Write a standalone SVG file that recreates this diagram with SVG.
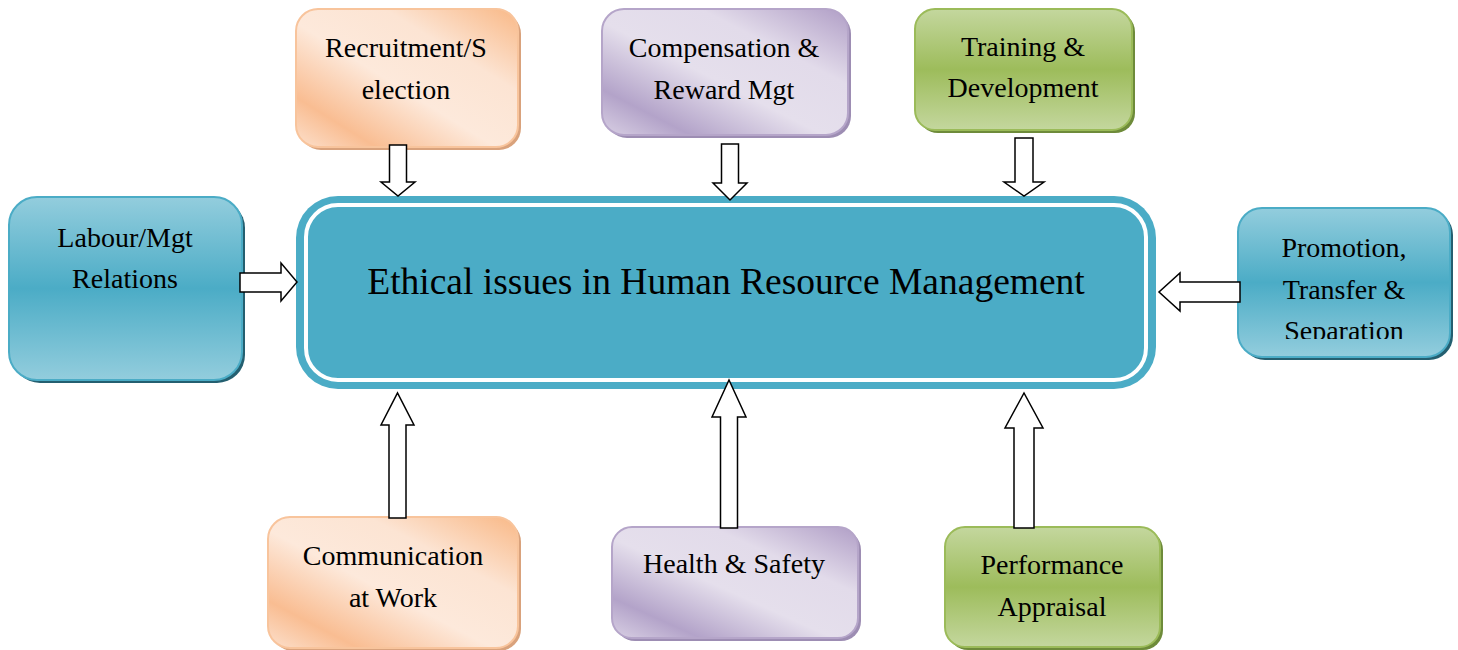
<svg xmlns="http://www.w3.org/2000/svg" width="1458" height="650" viewBox="0 0 1458 650">
<defs>
<linearGradient id="gOrange" x1="0" y1="1" x2="1" y2="0">
<stop offset="0" stop-color="#FCE0CC"/>
<stop offset="0.18" stop-color="#F9BD92"/>
<stop offset="0.45" stop-color="#FDE9DB"/>
<stop offset="0.7" stop-color="#FCE4D3"/>
<stop offset="1" stop-color="#F9B886"/>
</linearGradient>
<linearGradient id="gPurple" x1="0" y1="1" x2="1" y2="0">
<stop offset="0" stop-color="#D9D0E4"/>
<stop offset="0.18" stop-color="#B3A3C9"/>
<stop offset="0.45" stop-color="#E5DFEC"/>
<stop offset="0.7" stop-color="#E2DBEA"/>
<stop offset="1" stop-color="#B09EC6"/>
</linearGradient>
<linearGradient id="gGreen" x1="0" y1="0" x2="0" y2="1">
<stop offset="0" stop-color="#C4D79E"/>
<stop offset="0.5" stop-color="#9DBC5B"/>
<stop offset="1" stop-color="#C4D79E"/>
</linearGradient>
<linearGradient id="gTeal" x1="0" y1="0" x2="0" y2="1">
<stop offset="0" stop-color="#93CDDD"/>
<stop offset="0.5" stop-color="#4BACC6"/>
<stop offset="1" stop-color="#93CDDD"/>
</linearGradient>
<clipPath id="clipPromo"><rect x="1238" y="208" width="212" height="131"/></clipPath>
</defs>
<style>
.t{font-family:"Liberation Serif","Times New Roman",serif;font-size:28px;fill:#000;text-anchor:middle}
.main{font-family:"Liberation Serif","Times New Roman",serif;font-size:37.5px;fill:#000;text-anchor:middle}
.arrow{fill:#fff;stroke:#000;stroke-width:1.5;stroke-linejoin:miter}
.or{fill:url(#gOrange);stroke:#F8C49C;stroke-width:2}
.pu{fill:url(#gPurple);stroke:#B5A5C9;stroke-width:2}
.gr{fill:url(#gGreen);stroke:#9BBB59;stroke-width:2}
.te{fill:url(#gTeal);stroke:#4BACC6;stroke-width:2}
.sOr{fill:#D9A27C}
.sPu{fill:#9D8DB3}
.sGr{fill:#6E8B3A}
.sTe{fill:#245F70}
</style>

<g id="center">
<rect x="296" y="196" width="860" height="193" rx="42" fill="#4BACC6"/>
<rect x="306" y="205" width="840" height="175" rx="32" fill="#4BACC6" stroke="#fff" stroke-width="4"/>
<text class="main" x="726" y="294">Ethical issues in Human Resource Management</text>
</g>

<g id="recruitment">
<rect class="sOr" x="299" y="12" width="222" height="138" rx="22"/>
<rect class="or" x="296" y="9" width="222" height="138" rx="22"/>
<text class="t" x="406" y="57">Recruitment/S</text>
<text class="t" x="406" y="99">election</text>
</g>

<g id="compensation">
<rect class="sPu" x="605" y="12" width="246" height="126" rx="22"/>
<rect class="pu" x="602" y="9" width="246" height="126" rx="22"/>
<text class="t" x="724" y="57">Compensation &amp;</text>
<text class="t" x="724" y="99">Reward Mgt</text>
</g>

<g id="training">
<rect class="sGr" x="918" y="12" width="217" height="121" rx="20"/>
<rect class="gr" x="915" y="9" width="217" height="121" rx="20"/>
<text class="t" x="1023" y="56">Training &amp;</text>
<text class="t" x="1023" y="97">Development</text>
</g>

<g id="labour">
<rect class="sTe" x="12" y="200" width="233" height="183" rx="28"/>
<rect class="te" x="9" y="197" width="233" height="183" rx="28"/>
<text class="t" x="125" y="247">Labour/Mgt</text>
<text class="t" x="125" y="288">Relations</text>
</g>

<g id="promotion">
<rect class="sTe" x="1241" y="211" width="212" height="149" rx="24"/>
<rect class="te" x="1238" y="208" width="212" height="149" rx="24"/>
<text class="t" x="1344" y="257">Promotion,</text>
<text class="t" x="1344" y="299">Transfer &amp;</text>
<text class="t" x="1344" y="340" clip-path="url(#clipPromo)">Separation</text>
</g>

<g id="communication">
<rect class="sOr" x="271" y="520" width="250" height="131" rx="22"/>
<rect class="or" x="268" y="517" width="250" height="131" rx="22"/>
<text class="t" x="393" y="565">Communication</text>
<text class="t" x="393" y="607">at Work</text>
</g>

<g id="health">
<rect class="sPu" x="615" y="530" width="246" height="111" rx="20"/>
<rect class="pu" x="612" y="527" width="246" height="111" rx="20"/>
<text class="t" x="734" y="573">Health &amp; Safety</text>
</g>

<g id="performance">
<rect class="sGr" x="948" y="530" width="215" height="120" rx="20"/>
<rect class="gr" x="945" y="527" width="215" height="120" rx="20"/>
<text class="t" x="1052" y="574">Performance</text>
<text class="t" x="1052" y="616">Appraisal</text>
</g>

<g id="connectors">
<polygon class="arrow" points="389.5,145 406.5,145 406.5,182 415,182 398,196 381,182 389.5,182"/>
<polygon class="arrow" points="721.5,144 738.5,144 738.5,183 747,183 730,200 713,183 721.5,183"/>
<polygon class="arrow" points="1015,138 1033,138 1033,182 1044,182 1024,196 1004,182 1015,182"/>
<polygon class="arrow" points="240,273 281,273 281,263 297,282 281,301 281,292 240,292"/>
<polygon class="arrow" points="1240,282 1180,282 1180,273 1159,292 1180,311 1180,302 1240,302"/>
<polygon class="arrow" points="389,518 406,518 406,425 414,425 397.5,393 381,425 389,425"/>
<polygon class="arrow" points="720.5,528 737.5,528 737.5,417 746,417 729,380 712,417 720.5,417"/>
<polygon class="arrow" points="1014,528 1034,528 1034,428 1043,428 1024,393 1005,428 1014,428"/>
</g>
</svg>
